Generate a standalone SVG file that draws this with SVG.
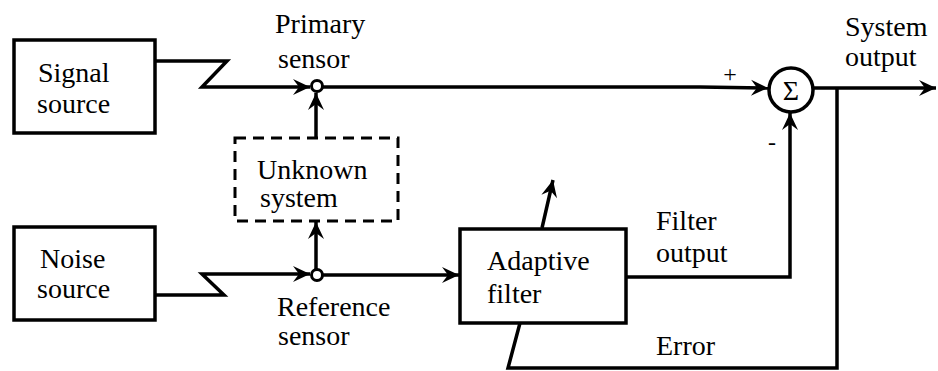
<svg xmlns="http://www.w3.org/2000/svg" width="938" height="371" viewBox="0 0 938 371">
  <style>
    .box { fill: none; stroke: #000; stroke-width: 3.5; }
    .dash { fill: none; stroke: #000; stroke-width: 3; stroke-dasharray: 11 7; }
    .wire { fill: none; stroke: #000; stroke-width: 3.5; stroke-linejoin: miter; }
    .arrow { marker-end: url(#head); }
    .sensor { fill: #fff; stroke: #000; stroke-width: 3; }
    .lbl { font-family: "Liberation Serif", Tinos, "Times New Roman", Times, "Nimbus Roman", FreeSerif, "DejaVu Serif", "Noto Serif", serif; font-size: 28px; fill: #000; }
  </style>
  <defs>
    <marker id="head" markerWidth="20" markerHeight="18" viewBox="-18 -9 20 18" refX="0" refY="0" orient="auto" markerUnits="userSpaceOnUse">
      <path d="M0,0 L-17,-8 L-11,0 L-17,8 Z" fill="#000"/>
    </marker>
  </defs>

  <!-- connectors -->
  <g id="connectors">
    <polyline class="wire arrow" points="155,61 227,61 202,87 310,87"/>
    <line class="wire" x1="322" y1="87" x2="700" y2="87"/>
    <line class="wire arrow" x1="700" y1="87" x2="768" y2="88"/>
    <line class="wire arrow" x1="316" y1="138" x2="316" y2="93"/>
    <polyline class="wire arrow" points="155,295 224,295 202,274 310,274"/>
    <line class="wire arrow" x1="316" y1="269" x2="316" y2="222"/>
    <line class="wire arrow" x1="322" y1="275" x2="459" y2="275"/>
    <polyline class="wire arrow" points="626,277 790,277 790,113"/>
    <line class="wire arrow" x1="813" y1="88" x2="936" y2="88"/>
    <polyline class="wire" points="837,88 837,368 508,368 520,323"/>
    <line class="wire arrow" x1="542" y1="228" x2="553" y2="180"/>
  </g>

  <g id="signal-source">
    <rect class="box" x="14" y="40" width="141" height="93"/>
    <text class="lbl" x="38" y="82">Signal</text>
    <text class="lbl" x="37" y="113">source</text>
  </g>

  <g id="noise-source">
    <rect class="box" x="14" y="227" width="141" height="93"/>
    <text class="lbl" x="40" y="268">Noise</text>
    <text class="lbl" x="37" y="298">source</text>
  </g>

  <g id="primary-sensor">
    <circle class="sensor" cx="317" cy="86" r="5.5"/>
    <text class="lbl" x="275" y="33">Primary</text>
    <text class="lbl" x="278" y="68">sensor</text>
  </g>

  <g id="reference-sensor">
    <circle class="sensor" cx="317" cy="275" r="5.5"/>
    <text class="lbl" x="277" y="316">Reference</text>
    <text class="lbl" x="278" y="345">sensor</text>
  </g>

  <g id="unknown-system">
    <rect class="dash" x="235" y="138" width="163" height="83"/>
    <text class="lbl" x="257" y="179">Unknown</text>
    <text class="lbl" x="260" y="207">system</text>
  </g>

  <g id="adaptive-filter">
    <rect class="box" x="460" y="229" width="166" height="94"/>
    <text class="lbl" x="487" y="270">Adaptive</text>
    <text class="lbl" x="487" y="303">filter</text>
  </g>

  <g id="summer">
    <circle cx="791" cy="90" r="22" fill="#fff" stroke="#000" stroke-width="3.5"/>
    <text class="lbl" x="791" y="100" text-anchor="middle">Σ</text>
    <text class="lbl" x="730" y="82" text-anchor="middle" style="font-size:24px">+</text>
    <text class="lbl" x="772" y="150" text-anchor="middle" style="font-size:24px">-</text>
  </g>

  <g id="labels">
    <text class="lbl" x="845" y="36">System</text>
    <text class="lbl" x="845" y="66">output</text>
    <text class="lbl" x="656" y="230">Filter</text>
    <text class="lbl" x="656" y="262">output</text>
    <text class="lbl" x="656" y="355">Error</text>
  </g>
</svg>
